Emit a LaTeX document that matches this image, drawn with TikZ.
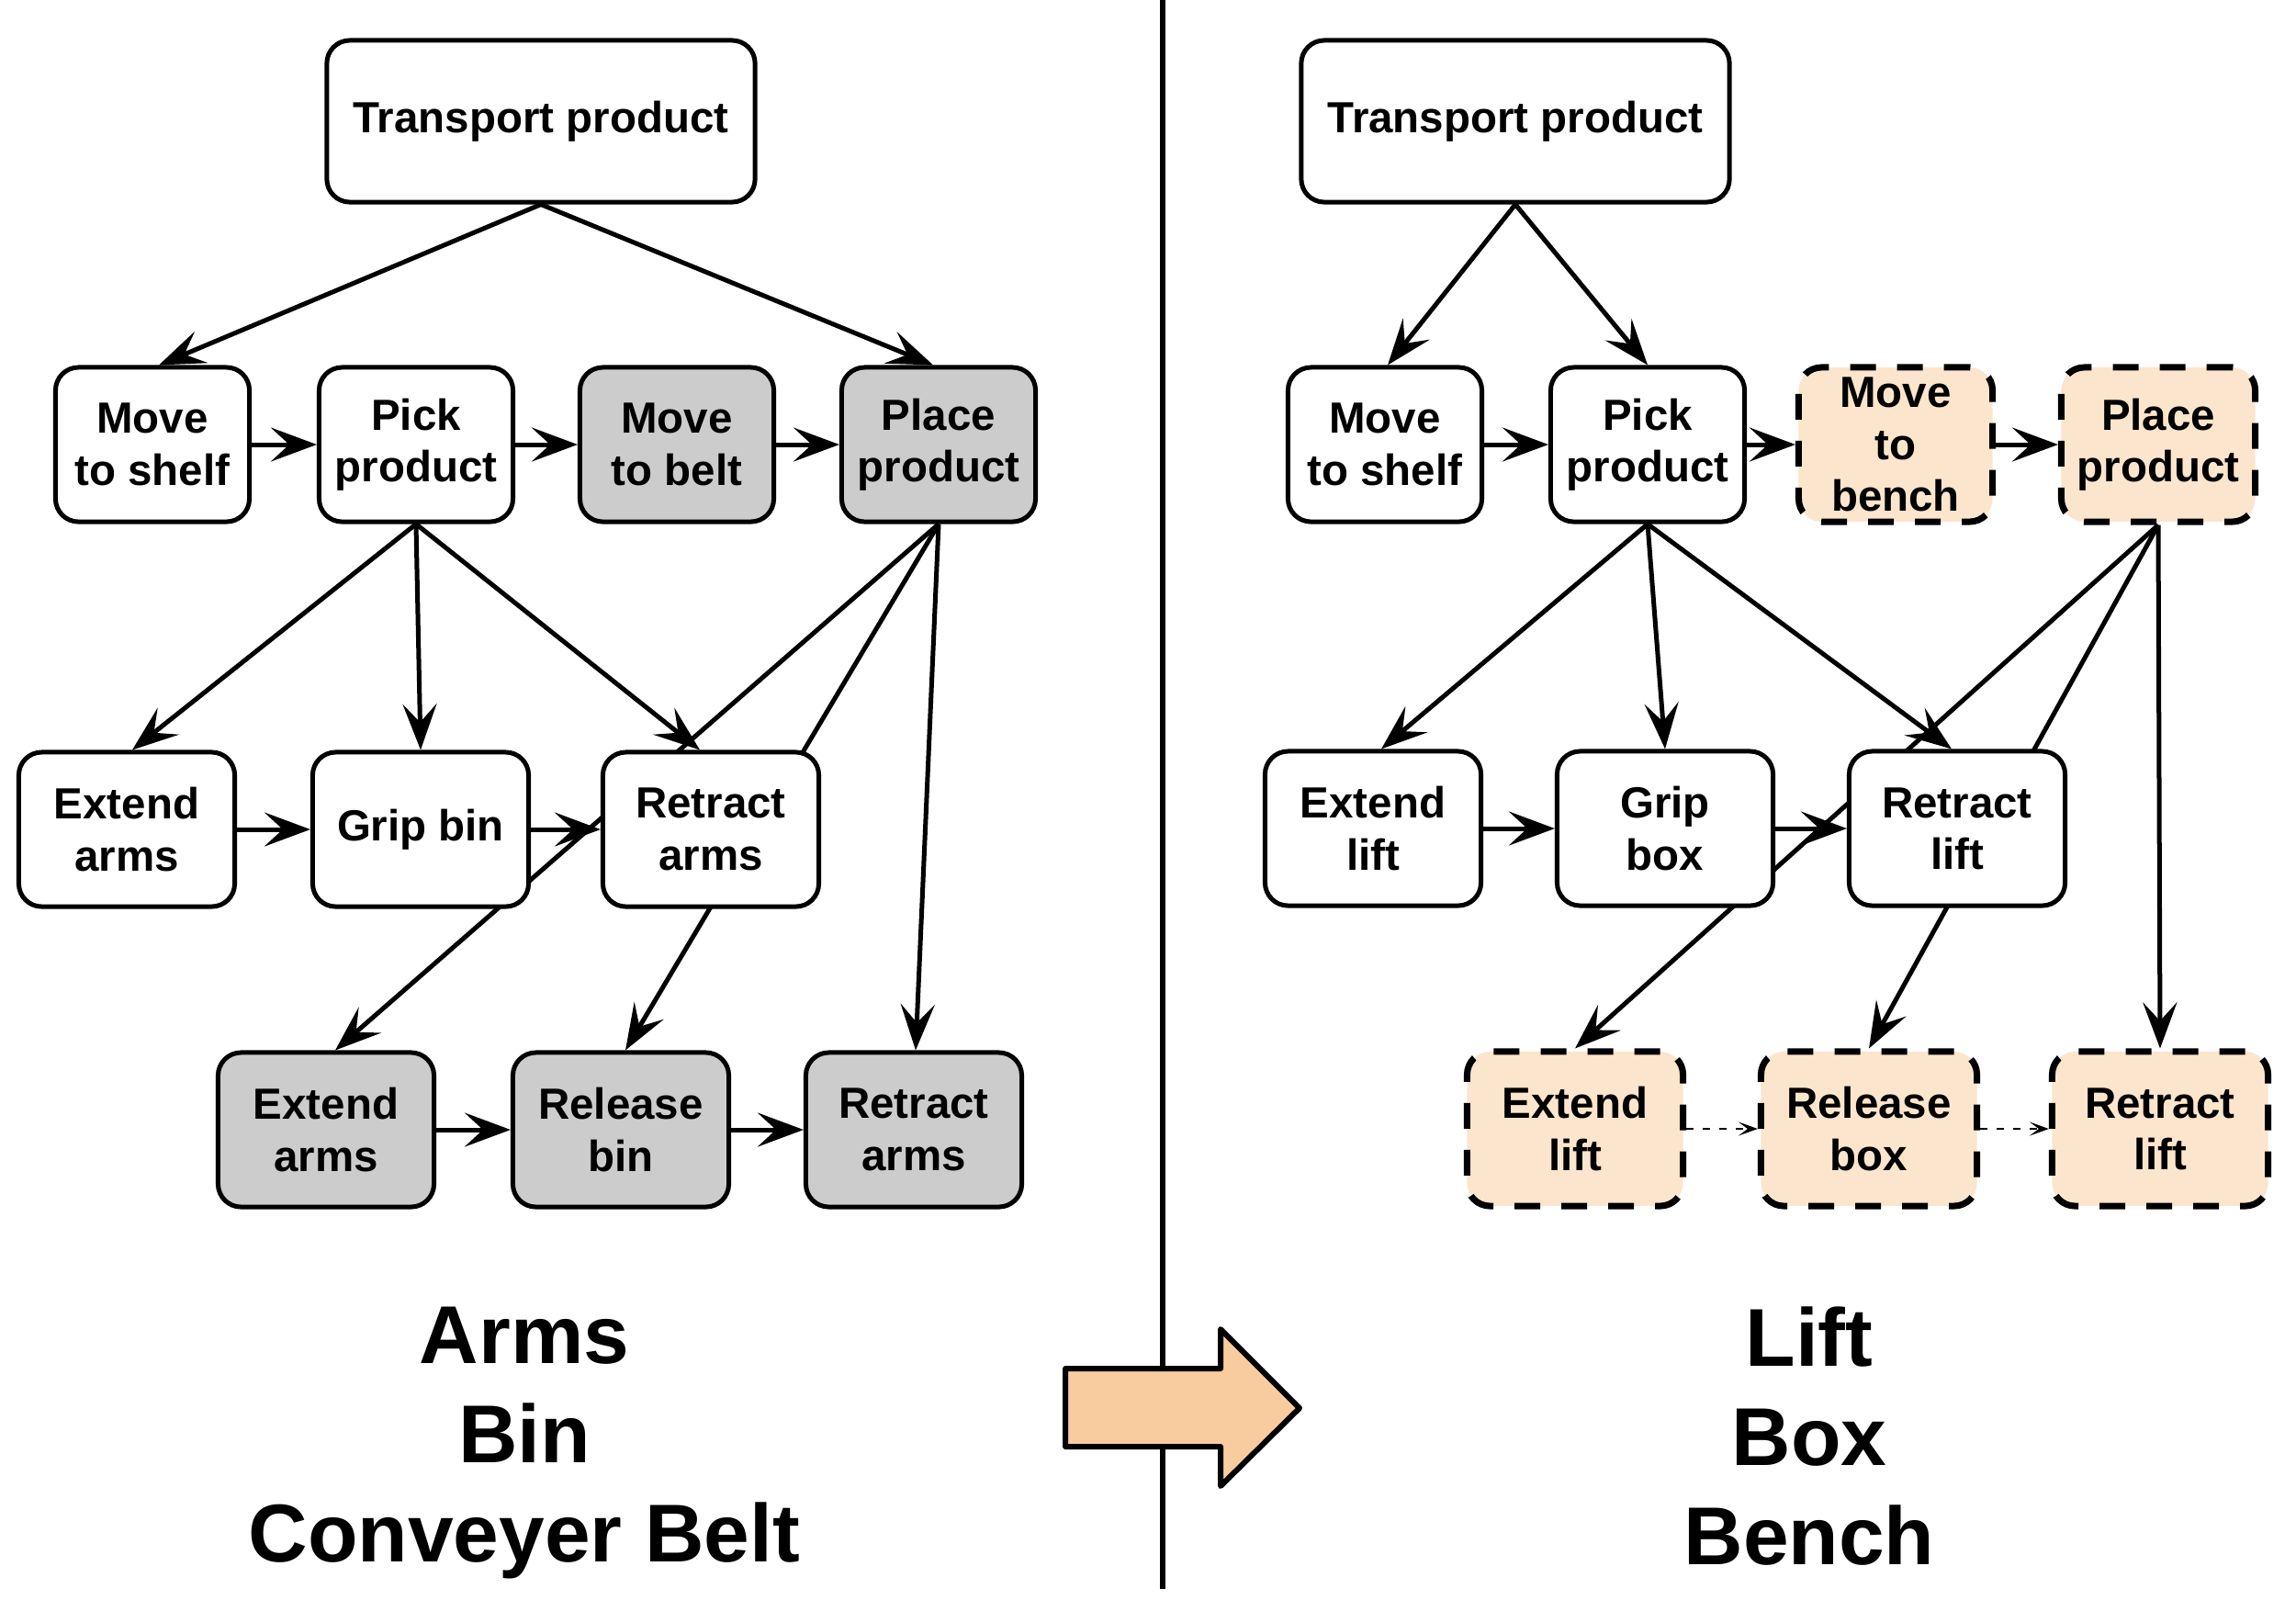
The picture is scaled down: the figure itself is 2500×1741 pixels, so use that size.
\documentclass[tikz,border=0pt]{standalone}
\usepackage{fontspec}
\setmainfont{Liberation Sans}
\usetikzlibrary{arrows.meta,backgrounds,calc}
\definecolor{peach}{RGB}{252,229,205}
\definecolor{bigpeach}{RGB}{248,204,158}
\definecolor{grayfill}{RGB}{204,204,204}
\tikzset{
  box/.style={draw, line width=0.05cm, rounded corners=0.25cm, fill=white,
    align=center, inner sep=0pt, font=\fontsize{13.5}{16}\selectfont\bfseries,
    minimum width=2.11cm, minimum height=1.68cm},
  wbox/.style={box, minimum width=2.35cm},
  topbox/.style={box, minimum width=4.66cm, minimum height=1.76cm},
  graybox/.style={fill=grayfill},
  newbox/.style={fill=peach, line width=0.07cm, dash pattern=on 0.28cm off 0.23cm},
  edge/.style={line width=0.05cm, -{Stealth[length=0.5cm,width=0.37cm,inset=0.2cm]}},
  tedge/.style={line width=0.028cm, dash pattern=on 0.08cm off 0.1cm,
    -{Stealth[length=0.21cm,width=0.15cm,inset=0.1cm]}},
  biglabel/.style={align=center, inner sep=0pt, anchor=north,
    font=\fontsize{25.4}{30.7}\selectfont\bfseries}
}
\begin{document}
\begin{tikzpicture}[x=0.01cm, y=-0.01cm]
\useasboundingbox (0,0) rectangle (2500,1741);
% ---------- left nodes ----------
\node[topbox] (TL) at (589,132) {Transport product};
\node[box] (L1) at (166,484) {Move\\to shelf};
\node[box] (L2) at (453,484) {Pick\\product};
\node[box, graybox] (L3) at (737,484) {Move\\to belt};
\node[box, graybox] (L4) at (1022,484) {Place\\product};
\node[wbox] (M1) at (138,903) {Extend\\arms};
\node[wbox] (M2) at (458,903) {Grip bin};
\node[wbox] (M3) at (774,903) {Retract\\arms};
\node[wbox, graybox] (N1) at (355,1230) {Extend\\arms};
\node[wbox, graybox] (N2) at (676,1230) {Release\\bin};
\node[wbox, graybox] (N3) at (995,1230) {Retract\\arms};
% ---------- right nodes ----------
\node[topbox] (TR) at (1650,132) {Transport product};
\node[box] (R1) at (1508,484) {Move\\to shelf};
\node[box] (R2) at (1794,484) {Pick\\product};
\node[box, newbox] (R3) at (2064,484) {Move\\to\\bench};
\node[box, newbox] (R4) at (2350,484) {Place\\product};
\node[wbox] (S1) at (1495,902) {Extend\\lift};
\node[wbox] (S2) at (1813,902) {Grip\\box};
\node[wbox] (S3) at (2131,902) {Retract\\lift};
\node[wbox, newbox] (T1) at (1715,1229) {Extend\\lift};
\node[wbox, newbox] (T2) at (2035,1229) {Release\\box};
\node[wbox, newbox] (T3) at (2352,1229) {Retract\\lift};
% ---------- labels ----------
\node[biglabel] (labL) at (571,1422) {Arms\\Bin\\Conveyer Belt};
\node[biglabel] (labR) at (1970,1422) {Lift\\Box\\Bench};
% ---------- big arrow ----------
\draw[line width=0.06cm, line join=round, fill=bigpeach]
  (1160,1490) -- (1329,1490) -- (1329,1447) -- (1415,1533) -- (1329,1618)
  -- (1329,1575) -- (1160,1575) -- cycle;
% ---------- background: divider and edges ----------
\begin{pgfonlayer}{background}
\fill[white] (0,0) rectangle (2500,1741);
\coordinate (divtop) at (1266,0);
\coordinate (divbot) at (1266,1730);
\draw[line width=0.06cm] (divtop) -- (divbot);
% left
\draw[edge] (TL.south) -- ($(L1.north)+(7,0)$);
\draw[edge] (TL.south) -- ($(L4.north)+(-6,0)$);
\draw[edge] (L1.east) -- (L2.west);
\draw[edge] (L2.east) -- (L3.west);
\draw[edge] (L3.east) -- (L4.west);
\draw[edge] (L2.south) -- ($(M1.north)+(6,0)$);
\draw[edge] (L2.south) -- (M2.north);
\draw[edge] (L2.south) -- ($(M3.north)+(-12,0)$);
\draw[edge] (L4.south) -- ($(N1.north)+(10,0)$);
\draw[edge] (L4.south) -- ($(N2.north)+(5,0)$);
\draw[edge] (L4.south) -- ($(N3.north)+(2,0)$);
\draw[edge] (M1.east) -- (M2.west);
\draw[edge] (M2.east) -- (M3.west);
\draw[edge] (N1.east) -- (N2.west);
\draw[edge] (N2.east) -- (N3.west);
% right
\draw[edge] (TR.south) -- ($(R1.north)+(3,0)$);
\draw[edge] (TR.south) -- (R2.north);
\draw[edge] (R1.east) -- (R2.west);
\draw[edge] (R2.east) -- (R3.west);
\draw[edge] (R3.east) -- (R4.west);
\draw[edge] (R2.south) -- ($(S1.north)+(9,0)$);
\draw[edge] (R2.south) -- (S2.north);
\draw[edge] (R2.south) -- ($(S3.north)+(-6,0)$);
\draw[edge] (R4.south) -- (T1.north);
\draw[edge] (R4.south) -- (T2.north);
\draw[edge] (R4.south) -- (T3.north);
\draw[edge] (S1.east) -- (S2.west);
\draw[edge] (S2.east) -- (S3.west);
\draw[tedge] (T1.east) -- (T2.west);
\draw[tedge] (T2.east) -- (T3.west);
\end{pgfonlayer}
\end{tikzpicture}
\end{document}
